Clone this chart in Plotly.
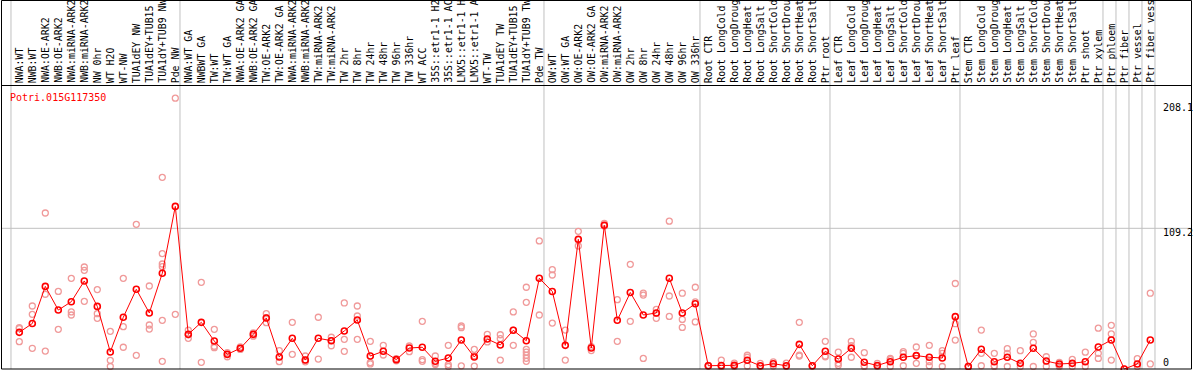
import plotly.graph_objects as go

gene_id = "Potri.015G117350"

labels = [
    "NWA:WT", "NWB:WT", "NWA:OE-ARK2", "NWB:OE-ARK2", "NWA:miRNA-ARK2", "NWB:miRNA-ARK2",
    "NW 0hr", "WT H2O", "WT-NW", "TUA1dEY NW", "TUA1dEY+TUB15 NW", "TUA1dY+TUB9 NW", "Pde NW",
    "NWA:WT GA", "NWBWT GA", "TW:WT", "TW:WT GA", "NWA:OE-ARK2 GA", "NWB:OE-ARK2 GA",
    "TW:OE-ARK2", "TW:OE-ARK2 GA", "NWA:miRNA-ARK2 GA", "NWB:miRNA-ARK2 GA", "TW:miRNA-ARK2",
    "TW:miRNA-ARK2 GA", "TW 2hr", "TW 8hr", "TW 24hr", "TW 48hr", "TW 96hr", "TW 336hr",
    "WT ACC", "35S::etr1-1 H2O", "35S::etr1-1 ACC", "LMX5::etr1-1 H2O", "LMX5::etr1-1 ACC",
    "WT-TW", "TUA1dEY TW", "TUA1dEY+TUB15 TW", "TUA1dY+TUB9 TW", "Pde TW",
    "OW:WT", "OW:WT GA", "OW:OE-ARK2", "OW:OE-ARK2 GA", "OW:miRNA-ARK2", "OW:miRNA-ARK2 GA",
    "OW 2hr", "OW 8hr", "OW 24hr", "OW 48hr", "OW 96hr", "OW 336hr",
    "Root CTR", "Root LongCold", "Root LongDrought", "Root LongHeat", "Root LongSalt",
    "Root ShortCold", "Root ShortDrought", "Root ShortHeat", "Root ShortSalt", "Ptr root",
    "Leaf CTR", "Leaf LongCold", "Leaf LongDrought", "Leaf LongHeat", "Leaf LongSalt",
    "Leaf ShortCold", "Leaf ShortDrought", "Leaf ShortHeat", "Leaf ShortSalt", "Ptr leaf",
    "Stem CTR", "Stem LongCold", "Stem LongDrought", "Stem LongHeat", "Stem LongSalt",
    "Stem ShortCold", "Stem ShortDrought", "Stem ShortHeat", "Stem ShortSalt", "Ptr shoot",
    "Ptr xylem", "Ptr phloem", "Ptr fiber", "Ptr vessel", "Ptr fiber vessel",
]

mean_values = [
    27.0, 34.0, 63.3, 44.6, 51.2, 67.6, 47.5, 11.5, 38.9, 61.0, 42.3, 73.7, 126.5,
    25.4, 34.9, 20.1, 9.6, 14.4, 25.4, 38.3, 7.5, 22.3, 5.1, 22.3, 20.4, 28.1, 36.7,
    8.3, 12.0, 5.4, 14.6, 15.2, 4.1, 6.7, 20.9, 7.5, 21.7, 17.0, 28.6, 20.4, 69.7,
    59.3, 16.7, 100.5, 14.6, 111.6, 36.5, 58.5, 40.7, 42.3, 69.7, 42.3, 49.6,
    0.6, 0.8, 0.9, 4.9, 0.6, 2.2, 0.6, 17.5, 0.6, 12.0,
    5.9, 14.4, 3.3, 0.8, 3.8, 7.3, 8.6, 7.3, 6.7, 39.4,
    0.0, 13.6, 3.8, 7.3, 2.5, 14.4, 4.3, 2.0, 2.5, 3.8, 15.4,
    20.9, -2.0, 2.0, 20.9,
]

replicate_values = [
    [30.7, 30.0, 19.6], [47.8, 41.2, 14.4], [121.3, 57.1, 12.2], [59.3, 29.4],
    [69.7, 43.1, 40.7], [78.6, 76.0, 51.5], [60.8, 41.7, 38.1], [27.8, 4.9, 0.0],
    [69.7, 31.5, 15.2], [112.3, 8.8], [63.6, 32.8, 29.6],
    [149.5, 89.2, 81.0, 78.9, 36.5, 4.1], [212.0, 41.2],
    [28.8, 25.0, 22.3], [66.5, 3.3], [29.4, 16.0, 14.9], [11.0, 9.5, 7.7],
    [15.5, 13.5], [26.5, 24.0], [41.7, 38.5, 34.6], [12.5, 3.8], [34.9, 9.6],
    [8.3, 5.0, 3.7], [38.9, 5.9], [23.1, 20.5, 16.4], [50.2, 21.5, 12.0],
    [47.8, 39.9, 21.5], [19.9, 3.0, 2.0], [16.7, 9.1], [6.2, 4.5], [16.2, 11.7],
    [35.7, 5.4, 4.1], [8.3, 2.5, 1.5], [16.7, 1.5, 0.0], [32.0, 30.7, 0.5],
    [13.6, 8.5, 0.3], [25.4, 19.4], [25.1, 22.0, 5.1], [43.1, 28.8, 16.7],
    [62.6, 50.7, 13.6, 11.3, 8.9, 6.5, 4.1], [99.2, 40.7],
    [76.5, 72.3, 34.3], [28.8, 5.1], [106.8, 100.0, 95.2], [15.7, 12.6],
    [113.0, 111.0], [52.8, 19.9], [80.7, 35.7], [57.9, 56.4, 6.4],
    [45.2, 42.0, 38.1], [114.8, 55.7, 39.6], [57.9, 37.2, 30.9], [62.6, 51.0, 35.2],
    [0.8, 0.5, 0.4], [5.1, 0.0, 0.0], [2.7, 0.5, 0.0], [8.9, 7.3, 0.4], [2.5, 0.0],
    [3.7, 0.4], [2.7, 0.0], [34.9, 9.0, 8.3], [0.6, 0.3], [19.9, 8.3, 7.7],
    [11.3, 2.5, 0.9], [19.9, 16.4, 7.3], [10.9, 0.6, 0.0], [2.5, 0.0],
    [6.4, 5.4, 0.0], [11.7, 10.4, 0.6], [15.4, 8.6, 2.5], [16.7, 3.8, 0.6],
    [12.5, 10.4, 0.0], [65.6, 33.8, 20.9],
    [0.0, 0.0], [28.8, 10.4, 0.6], [10.4, 0.6, 0.0], [14.1, 10.4, 0.0], [12.5, 0.0],
    [25.7, 19.1, 0.0], [7.7, 0.0], [3.3, 0.6, 0.0], [5.6, 0.0], [11.3, 0.0],
    [30.3, 10.4, 6.4], [32.5, 25.7, 5.1], [-2.0], [6.2, 0.0], [57.9, 2.0],
]

group_starts = [0, 13, 41, 53, 63, 73, 84, 85, 86, 87, 88]
axis_ticks = [208.1, 109.2, 0]
axis_tick_labels = ["208.1", "109.2", "0"]

W, H = 1194, 370
COL0, COLW = 19.3, 13.0
ZERO_PX, PX_PER_UNIT = 366.5, 1.2656
LABEL_CHARS = 14  # the header row only has room for this many characters

def px_x(p):
    return p / W

def px_y(p):
    return 1 - p / H

x_range = [-COL0 / COLW, (W - COL0) / COLW]
y_range = [-(H - ZERO_PX) / PX_PER_UNIT, ZERO_PX / PX_PER_UNIT]

MONO = "DejaVu Sans Mono"
fig = go.Figure()

rx, ry = [], []
for i, reps in enumerate(replicate_values):
    for v in reps:
        rx.append(i)
        ry.append(v)

fig.add_trace(go.Scatter(
    x=rx, y=ry, mode="markers",
    marker=dict(symbol="circle-open", size=6, color="#f09a9a", line=dict(width=1.3, color="#f09a9a")),
    showlegend=False, cliponaxis=False, hoverinfo="skip",
))
fig.add_trace(go.Scatter(
    x=list(range(len(mean_values))), y=mean_values, mode="lines+markers",
    line=dict(color="#ff0000", width=1),
    marker=dict(symbol="circle-open", size=6, color="#ff0000", line=dict(width=1.6, color="#ff0000")),
    showlegend=False, cliponaxis=False,
))

shapes = []
for k in group_starts:
    shapes.append(dict(type="line", xref="x", yref="paper", x0=k - 0.64, x1=k - 0.64,
                       y0=px_y(369), y1=px_y(0), line=dict(color="#c0c0c0", width=1), layer="below"))
shapes.append(dict(type="line", xref="paper", yref="y", x0=px_x(1.5), x1=px_x(1191.5),
                   y0=axis_ticks[1], y1=axis_ticks[1], line=dict(color="#c0c0c0", width=1), layer="below"))
shapes.append(dict(type="rect", xref="paper", yref="paper", x0=px_x(1.5), x1=px_x(1191.5),
                   y0=px_y(369), y1=px_y(0.5), line=dict(color="#000000", width=1), layer="above"))
shapes.append(dict(type="line", xref="paper", yref="paper", x0=px_x(1.5), x1=px_x(1191.5),
                   y0=px_y(85.5), y1=px_y(85.5), line=dict(color="#000000", width=1)))

annotations = []
for i, lab in enumerate(labels):
    annotations.append(dict(x=i, xref="x", y=px_y(84), yref="paper", text=lab[:LABEL_CHARS].rstrip(),
                            textangle=-90, showarrow=False, xanchor="center", yanchor="bottom",
                            borderpad=0, font=dict(family=MONO, size=9.9, color="#000000")))
annotations.append(dict(x=px_x(9), xref="paper", y=px_y(97), yref="paper", text=gene_id,
                        showarrow=False, xanchor="left", yanchor="middle", borderpad=0,
                        font=dict(family=MONO, size=10, color="#ff0000")))
for v, t in zip(axis_ticks, axis_tick_labels):
    ypx = ZERO_PX - v * PX_PER_UNIT + 4
    if v == 0:
        ypx = 362
    annotations.append(dict(x=px_x(1162), xref="paper", y=px_y(ypx), yref="paper", text=t,
                            showarrow=False, xanchor="left", yanchor="middle", borderpad=0,
                            font=dict(family=MONO, size=10, color="#000000")))

fig.update_layout(
    width=W, height=H,
    margin=dict(l=0, r=0, t=0, b=0, pad=0),
    paper_bgcolor="white", plot_bgcolor="white",
    xaxis=dict(range=x_range, domain=[0, 1], showgrid=False, zeroline=False, showticklabels=False,
               showline=False, fixedrange=True),
    yaxis=dict(range=y_range, domain=[0, 1], showgrid=False, zeroline=False, showticklabels=False,
               showline=False, fixedrange=True),
    shapes=shapes, annotations=annotations, showlegend=False,
)

fig.write_html("out.html", config={"displayModeBar": False},
               post_script="document.body.style.margin='0px';document.body.style.padding='0px';")
